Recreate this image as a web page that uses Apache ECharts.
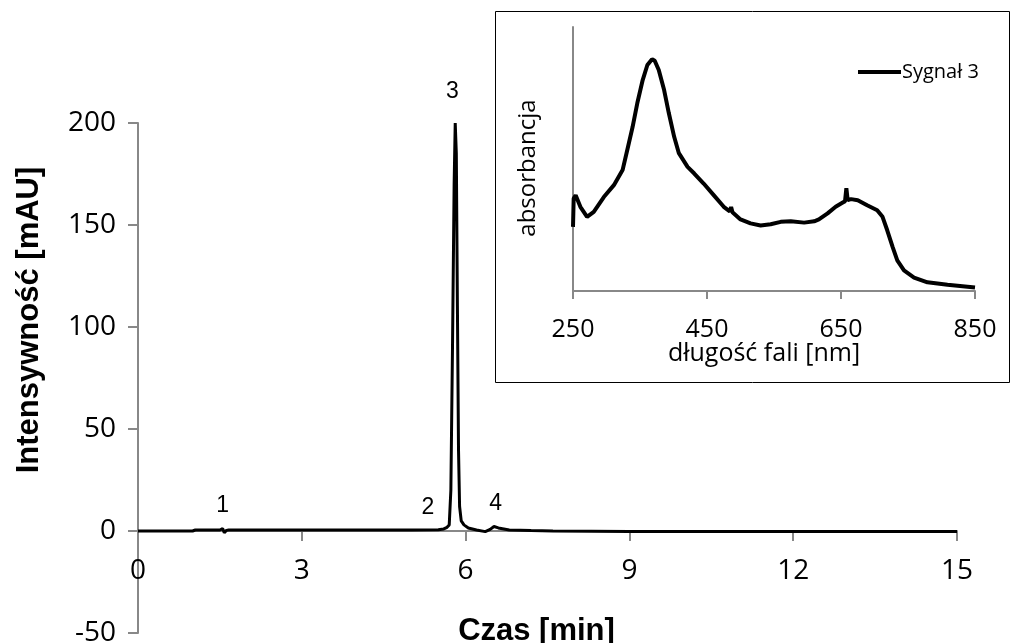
<!DOCTYPE html>
<html>
<head>
<meta charset="utf-8">
<script src="https://cdn.jsdelivr.net/npm/echarts@6/dist/echarts.min.js"></script>
<style>
  html, body { margin: 0; padding: 0; background: #fff; }
  #container { width: 1011px; height: 643px; }
</style>
</head>
<body>
<div id="container"></div>
<script>
  // chromatogram (main plot)
  var timeMin = [0, 1.0, 1.05, 1.5, 1.55, 1.58, 1.62, 1.66, 2.0, 3.0, 4.0, 5.0, 5.5, 5.6, 5.66, 5.70, 5.73, 5.76, 5.79, 5.81, 5.83, 5.85, 5.87, 5.89, 5.92, 5.97, 6.05, 6.2, 6.36, 6.45, 6.52, 6.6, 6.8, 7.2, 7.6, 9, 12, 15];
  var intensity = [0, 0, 0.5, 0.5, 1.2, -0.8, 0.3, 0.5, 0.5, 0.5, 0.5, 0.5, 0.6, 1.0, 1.8, 3, 20, 90, 170, 200, 185, 110, 40, 12, 5, 3, 1.5, 0.5, -0.3, 0.8, 2.2, 1.5, 0.5, 0.2, 0, -0.2, -0.2, -0.2];

  // peak numbers
  var peakNames = ['1', '2', '3', '4'];
  var peakTime = [1.55, 5.31, 5.76, 6.55];
  var peakLabelY = [12.6, 11.6, 215.5, 13.6];

  // UV-Vis spectrum of peak 3 (inset)
  var wavelength = [250, 251, 254, 261, 271, 281, 296, 311, 324, 331, 339, 346, 354, 361, 368, 372, 378, 386, 393, 401, 408, 421, 431, 445, 460, 475, 484, 486, 488, 500, 515, 530, 545, 560, 575, 595, 610, 617, 630, 642, 652, 656, 658, 660, 665, 675, 689, 704, 712, 719, 727, 734, 744, 759, 779, 809, 850];
  var absorbance = [0.243, 0.35, 0.363, 0.319, 0.281, 0.300, 0.356, 0.401, 0.458, 0.534, 0.622, 0.712, 0.799, 0.856, 0.878, 0.872, 0.837, 0.761, 0.674, 0.584, 0.522, 0.470, 0.445, 0.407, 0.363, 0.319, 0.302, 0.318, 0.298, 0.271, 0.256, 0.248, 0.253, 0.262, 0.264, 0.259, 0.264, 0.271, 0.294, 0.319, 0.334, 0.340, 0.389, 0.344, 0.348, 0.344, 0.325, 0.306, 0.281, 0.230, 0.167, 0.116, 0.078, 0.051, 0.033, 0.024, 0.013];

  var chromData = timeMin.map(function (t, i) { return [t, intensity[i]]; });
  var peakData = peakNames.map(function (n, i) { return { name: n, value: [peakTime[i], peakLabelY[i]] }; });
  var specData = wavelength.map(function (w, i) { return [w, absorbance[i]]; });

  var axisGray = '#888888';
  var numFont = '"Open Sans", sans-serif';
  var boldFont = '"Liberation Sans", Arial, sans-serif';

  var myChart = echarts.init(document.getElementById('container'));
  myChart.setOption({
    animation: false,
    backgroundColor: '#fff',
    grid: [
      {left: 138, right: 54, top: 123, bottom: 10, outerBoundsMode: 'none'},
      {left: 573, right: 36, top: 27, bottom: 352, outerBoundsMode: 'none'}
    ],
    legend: {
      data: ['Sygnał 3'],
      left: 853,
      top: 57,
      icon: 'rect',
      itemWidth: 43,
      itemHeight: 4,
      textStyle: {fontFamily: numFont, fontSize: 20, color: '#000', padding: [0, 0, 0, -4]}
    },
    xAxis: [
      {
        // labels and name sit under the zero line, i.e. above the grid bottom
        type: 'value', gridIndex: 0, min: 0, max: 15, interval: 3,
        name: 'Czas [min]', nameLocation: 'middle', nameGap: -21, nameMoveOverlap: false,
        nameTextStyle: {fontFamily: boldFont, fontWeight: 'bold', fontSize: 31, color: '#000', padding: [4, 22, 0, 0]},
        axisLine: {onZero: true, lineStyle: {color: axisGray, width: 2}},
        axisTick: {show: true, length: 10, lineStyle: {color: axisGray, width: 2}},
        axisLabel: {fontFamily: numFont, fontSize: 28, color: '#000', margin: -76},
        splitLine: {show: false}
      },
      {
        type: 'value', gridIndex: 1, min: 250, max: 850, interval: 200,
        name: 'długość fali [nm]', nameLocation: 'middle', nameGap: 46, nameMoveOverlap: false,
        nameTextStyle: {fontFamily: numFont, fontSize: 25, color: '#000', padding: [4, 20, 0, 0]},
        axisLine: {onZero: false, lineStyle: {color: axisGray, width: 2}},
        axisTick: {show: true, length: 8, lineStyle: {color: axisGray, width: 2}},
        axisLabel: {fontFamily: numFont, fontSize: 25, color: '#000', margin: 26},
        splitLine: {show: false}
      }
    ],
    yAxis: [
      {
        type: 'value', gridIndex: 0, min: -50, max: 200, interval: 50,
        name: 'Intensywność [mAU]', nameLocation: 'middle', nameGap: 93, nameMoveOverlap: false,
        nameTextStyle: {fontFamily: boldFont, fontWeight: 'bold', fontSize: 31, color: '#000', padding: [0, 0, 0, 116]},
        axisLine: {show: true, lineStyle: {color: axisGray, width: 2}},
        axisTick: {show: true, length: 10, lineStyle: {color: axisGray, width: 2}},
        axisLabel: {fontFamily: numFont, fontSize: 28, color: '#000', margin: 22},
        splitLine: {show: false}
      },
      {
        type: 'value', gridIndex: 1, min: 0, max: 1,
        name: 'absorbancja', nameLocation: 'middle', nameGap: 33, nameMoveOverlap: false,
        nameTextStyle: {fontFamily: numFont, fontSize: 24, color: '#000', padding: [0, 18, 0, 0]},
        axisLine: {show: true, lineStyle: {color: axisGray, width: 2}},
        axisTick: {show: false},
        axisLabel: {show: false},
        splitLine: {show: false}
      }
    ],
    series: [
      {
        name: 'Chromatogram',
        type: 'line',
        xAxisIndex: 0, yAxisIndex: 0,
        data: chromData,
        showSymbol: false,
        lineStyle: {color: '#000', width: 3},
        z: 3
      },
      {
        name: 'peaks',
        type: 'scatter',
        xAxisIndex: 0, yAxisIndex: 0,
        data: peakData,
        clip: false,
        symbolSize: 1,
        itemStyle: {color: '#fff'},
        label: {
          show: true, position: 'inside', formatter: '{b}',
          fontFamily: boldFont, fontSize: 23, color: '#000',
          textBorderWidth: 0, opacity: 1
        }
      },
      {
        name: 'Sygnał 3',
        type: 'line',
        xAxisIndex: 1, yAxisIndex: 1,
        data: specData,
        showSymbol: false,
        itemStyle: {color: '#000'},
        lineStyle: {color: '#000', width: 4}
      }
    ],
    graphic: [
      {
        type: 'rect',
        shape: {x: 495.5, y: 11.5, width: 514, height: 371},
        style: {fill: null, stroke: '#000', lineWidth: 1},
        silent: true
      }
    ]
  });
</script>
</body>
</html>
